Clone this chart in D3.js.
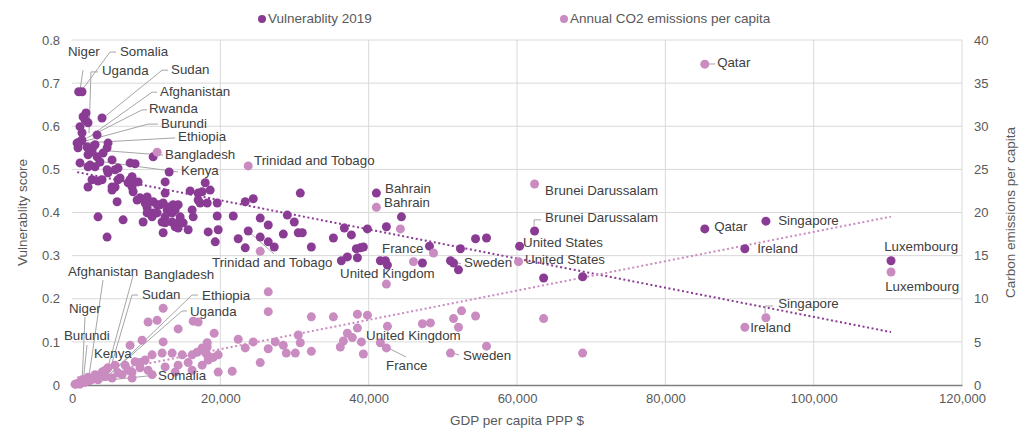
<!DOCTYPE html>
<html>
<head>
<meta charset="utf-8">
<script src="https://cdn.jsdelivr.net/npm/d3@7/dist/d3.min.js"></script>
<style>
  html, body { margin: 0; padding: 0; background: #ffffff; }
  svg { display: block; font-family: "Liberation Sans", Arial, sans-serif; }
</style>
</head>
<body>
<svg id="chart" width="1024" height="437"></svg>
<script>
// ---------------- DATA ----------------
const seriesNames = ["Vulnerablity 2019", "Annual CO2 emissions per capita"];

const xTicks = [0, 20000, 40000, 60000, 80000, 100000, 120000];
const leftTicks = [0, 0.1, 0.2, 0.3, 0.4, 0.5, 0.6, 0.7, 0.8];
const rightTicks = [0, 5, 10, 15, 20, 25, 30, 35, 40];

// [GDP per capita PPP $, vulnerability score]
const vulnerability = [
  [900,0.680],[1350,0.680],[4050,0.619],[1890,0.631],[1490,0.622],[1080,0.599],[2160,0.608],[3380,0.580],
  [680,0.561],[1350,0.568],[2030,0.552],[2840,0.552],[4860,0.561],[1080,0.515],[2160,0.534],[3380,0.529],
  [4190,0.538],[4730,0.550],[3780,0.517],[3110,0.506],[2160,0.506],[10940,0.529],[13100,0.494],[3510,0.473],
  [4860,0.492],[6210,0.503],[6210,0.476],[7830,0.515],[8510,0.513],[8100,0.483],[2160,0.459],[5400,0.452],
  [6080,0.425],[8240,0.469],[8910,0.471],[12560,0.471],[15930,0.450],[17010,0.445],[17960,0.469],[18630,0.452],
  [17280,0.422],[18230,0.422],[19580,0.422],[23360,0.425],[24440,0.432],[30780,0.445],[9180,0.434],[10130,0.436],
  [10940,0.425],[11880,0.418],[12830,0.406],[13640,0.418],[10130,0.411],[10940,0.399],[3510,0.390],[6890,0.383],
  [14580,0.390],[16340,0.390],[19580,0.392],[21740,0.392],[25380,0.387],[29030,0.394],[5400,0.459],[7560,0.469],
  [8240,0.448],[8780,0.429],[9860,0.422],[11480,0.418],[12290,0.422],[12560,0.445],[12960,0.413],[13500,0.399],
  [13910,0.406],[14310,0.418],[12560,0.390],[12150,0.378],[12560,0.376],[13500,0.378],[13910,0.367],[14310,0.376],
  [14990,0.376],[14310,0.364],[12290,0.353],[15660,0.360],[16200,0.406],[17010,0.429],[17550,0.448],[19710,0.360],
  [18360,0.355],[19310,0.332],[9590,0.378],[10800,0.390],[10130,0.399],[11480,0.399],[4730,0.343],[22410,0.339],
  [23360,0.318],[23760,0.357],[25380,0.343],[26460,0.371],[26460,0.332],[27270,0.320],[28490,0.350],[29970,0.378],
  [30510,0.353],[31050,0.353],[32270,0.320],[35240,0.341],[36320,0.288],[37130,0.297],[36720,0.364],[37670,0.348],
  [38340,0.316],[38880,0.318],[39290,0.320],[38480,0.295],[39830,0.362],[41040,0.445],[41580,0.288],[42260,0.288],
  [42530,0.278],[42390,0.367],[44420,0.390],[47250,0.283],[48200,0.322],[52380,0.316],[54410,0.339],[55890,0.341],
  [51030,0.288],[51440,0.283],[52110,0.267],[60350,0.322],[62370,0.357],[63590,0.248],[68850,0.251],[85320,0.362],
  [93560,0.380],[90720,0.316],[110430,0.288],
  [2700,0.476],[4050,0.476],[6480,0.480],[5810,0.499],[5400,0.522],[4730,0.499],[2430,0.510],[2700,0.541],
  [3110,0.557],[1350,0.585],[1760,0.615],[810,0.550],[1080,0.564],[8100,0.459],[7830,0.476],[5810,0.459]
];

// [GDP per capita PPP $, CO2 tonnes per capita]
const emissions = [
  [85320,37.2],[62370,23.3],[41040,20.6],[11480,27.0],[23760,25.4],[25380,15.5],[44280,18.1],[48740,15.3],
  [46040,14.3],[42390,11.7],[60210,14.3],[110430,13.1],[93560,7.8],[90720,6.7],[68850,3.7],[63590,7.7],
  [55890,4.5],[51030,3.7],[52520,8.6],[54410,8.0],[51440,7.7],[52110,6.7],[48330,7.2],[47250,7.1],
  [26460,10.8],[26460,8.5],[32270,7.9],[35240,7.9],[38480,8.2],[39830,8.1],[38480,6.6],[37130,6.0],
  [37800,5.5],[36590,5.1],[36180,4.4],[39020,5.0],[39290,3.6],[41580,4.9],[42390,4.3],[42530,6.8],
  [30510,5.8],[30780,4.9],[30110,3.7],[28890,3.7],[28490,4.6],[27410,5.0],[26460,4.2],[24440,5.0],
  [23360,4.3],[22410,5.3],[25380,2.6],[21600,1.6],[19710,1.5],[19170,6.0],[18230,4.4],[18230,3.5],
  [32270,3.9],[12290,8.9],[10260,7.3],[11480,7.5],[16340,7.4],[17010,7.3],[14310,6.5],[12290,5.0],
  [9450,5.2],[7830,4.6],[18230,4.9],[17550,4.3],[16880,3.8],[16200,3.5],[17960,3.8],[19040,3.2],
  [19710,3.5],[18360,2.9],[14850,3.5],[13500,3.7],[12150,3.7],[10800,3.5],[9860,2.9],[9180,2.6],
  [8510,2.7],[7160,2.3],[5810,2.3],[4860,2.0],[4050,1.5],[3110,1.2],[2160,0.9],[1350,0.6],
  [810,0.2],[410,0.1],[1760,0.3],[3510,0.6],[5400,0.8],[6750,1.2],[8100,1.5],[10260,1.7],
  [12560,2.1],[14310,2.3],[15660,2.6],[17550,2.3],[16200,1.7],[13910,1.5],[10800,1.2],[8100,0.8],
  [540,0.1],[1080,0.1],[2430,0.5],[2840,0.7],[4460,1.0],[6210,1.4],[7560,1.7],[9180,2.0],[4460,1.7]
];

// linear trendlines: [intercept, slope per $]
const vulnTrend = [0.496, -3.38e-6];
const co2Trend = [0.75, 1.70e-4];
const trendRange = [700, 110430];

// labels: [text, text gdp, text value, leader line points [[gdp, value], ...]]
const vulnLabels = [
  ["Niger", -540, 0.772, [[1483,0.730],[1079,0.684]]],
  ["Somalia", 6473, 0.772, [[5934,0.772],[5125,0.772],[1349,0.684]]],
  ["Uganda", 4046, 0.726, [[3506,0.726],[2562,0.726],[2293,0.584]]],
  ["Sudan", 13351, 0.730, [[12947,0.730],[12137,0.730],[4046,0.617]]],
  ["Afghanistan", 11868, 0.679, [[11463,0.679],[10789,0.679],[2697,0.580]]],
  ["Rwanda", 10384, 0.638, [[10115,0.638],[9440,0.638],[2023,0.573]]],
  ["Burundi", 12001, 0.605, [[11598,0.605],[10249,0.605],[809,0.561]]],
  ["Ethiopia", 14295, 0.573, [[13891,0.573],[1483,0.561]]],
  ["Bangladesh", 12542, 0.533, [[12272,0.533],[4855,0.543]]],
  ["Kenya", 14700, 0.494, [[14295,0.494],[4450,0.517]]],
  ["Trinidad and Tobago", 18880, 0.281, [[23735,0.357],[27242,0.304]]],
  ["Bahrain", 42211, 0.454, []],
  ["France", 41807, 0.315, []],
  ["United Kingdom", 36142, 0.257, []],
  ["Sweden", 52865, 0.281, [[51651,0.285],[52460,0.281]]],
  ["United States", 60822, 0.327, []],
  ["Brunei Darussalam", 63789, 0.387, [[62305,0.369],[62305,0.383],[63249,0.383]]],
  ["Qatar", 86580, 0.366, []],
  ["Singapore", 95211, 0.380, []],
  ["Ireland", 92379, 0.315, []],
  ["Luxembourg", 109506, 0.318, []]
];

const co2Labels = [
  ["Afghanistan", -540, 13.10, [[4181,12.17],[2158,0.23]]],
  ["Bangladesh", 9710, 12.64, [[8226,12.64],[4450,0.81]]],
  ["Sudan", 9440, 10.43, [[8901,10.43],[8092,10.43],[4720,0.58]]],
  ["Ethiopia", 17532, 10.32, [[16992,10.43],[16183,10.43],[4720,0.93]]],
  ["Uganda", 15913, 8.46, [[15509,8.58],[14835,8.58],[4181,0.58]]],
  ["Niger", -405, 8.81, [[1753,7.88],[1349,0.23]]],
  ["Burundi", -1079, 5.68, [[2023,4.64],[1483,0.23]]],
  ["Kenya", 2967, 3.59, []],
  ["Somalia", 11598, 1.04, [[11463,1.16],[1079,0.23]]],
  ["Trinidad and Tobago", 24545, 25.86, []],
  ["Bahrain", 42076, 20.99, []],
  ["Brunei Darussalam", 63789, 22.38, []],
  ["Qatar", 86985, 37.33, [[85906,37.22],[86715,37.22]]],
  ["United States", 61092, 14.38, []],
  ["United Kingdom", 39649, 5.57, []],
  ["France", 42346, 2.20, [[42616,4.29],[45043,3.25]]],
  ["Sweden", 52730, 3.36, [[51381,3.71],[52191,3.48]]],
  ["Singapore", 95211, 9.28, [[93457,8.35],[93457,9.16],[94536,9.16]]],
  ["Ireland", 91435, 6.61, []],
  ["Luxembourg", 109641, 11.36, []]
];

// ---------------- DRAWING ----------------
const svg = d3.select("#chart");
const margin = { left: 72, right: 62, top: 40, bottom: 52 };
const W = 1024, H = 437;
const x = d3.scaleLinear().domain([0, 120000]).range([margin.left, W - margin.right]);
const yL = d3.scaleLinear().domain([0, 0.8]).range([H - margin.bottom, margin.top]);
const yR = d3.scaleLinear().domain([0, 40]).range([H - margin.bottom, margin.top]);

const darkColor = "#8a3b94";
const lightColor = "#c98bc0";
const textColor = "#404040";
const tickColor = "#595959";
const gridColor = "#d9d9d9";

// gridlines
const grid = svg.append("g");
grid.selectAll("line.h").data(leftTicks.filter(d => d > 0)).join("line")
  .attr("x1", x(0)).attr("x2", x(120000))
  .attr("y1", d => yL(d)).attr("y2", d => yL(d))
  .attr("stroke", gridColor).attr("stroke-width", 1);
grid.selectAll("line.v").data(xTicks.filter(d => d > 0)).join("line")
  .attr("x1", d => x(d)).attr("x2", d => x(d))
  .attr("y1", yL(0)).attr("y2", yL(0.8))
  .attr("stroke", gridColor).attr("stroke-width", 1);

// axes
const fmt = d3.format(",");
const xAxis = svg.append("g").attr("transform", `translate(0,${yL(0)})`)
  .call(d3.axisBottom(x).tickValues(xTicks).tickFormat(d => fmt(d)).tickSize(0).tickPadding(9));
xAxis.select(".domain").attr("stroke", "#7f7f7f").attr("stroke-width", 1.3);
xAxis.selectAll("text").attr("fill", tickColor).style("font-size", "13px").style("font-family", "Liberation Sans, Arial, sans-serif");

const lAxis = svg.append("g").attr("transform", `translate(${x(0)},0)`)
  .call(d3.axisLeft(yL).tickValues(leftTicks).tickFormat(d => d === 0 ? "0" : d3.format(".1f")(d)).tickSize(0).tickPadding(12));
lAxis.select(".domain").remove();
lAxis.selectAll("text").attr("fill", tickColor).style("font-size", "13px").style("font-family", "Liberation Sans, Arial, sans-serif");

const rAxis = svg.append("g").attr("transform", `translate(${x(120000)},0)`)
  .call(d3.axisRight(yR).tickValues(rightTicks).tickFormat(d => d).tickSize(0).tickPadding(12));
rAxis.select(".domain").remove();
rAxis.selectAll("text").attr("fill", tickColor).style("font-size", "13px").style("font-family", "Liberation Sans, Arial, sans-serif");

// axis titles
const midY = (yL(0) + yL(0.8)) / 2;
svg.append("text").attr("transform", `translate(23,${midY}) rotate(-90)`)
  .attr("text-anchor", "middle").attr("dominant-baseline", "middle")
  .attr("fill", tickColor).style("font-size", "13.5px").text("Vulnerablity score");
svg.append("text").attr("transform", `translate(1011,${midY}) rotate(-90)`)
  .attr("text-anchor", "middle").attr("dominant-baseline", "middle")
  .attr("fill", tickColor).style("font-size", "13.5px").text("Carbon emissions per capita");
svg.append("text").attr("x", (x(0) + x(120000)) / 2).attr("y", 421)
  .attr("text-anchor", "middle").attr("dominant-baseline", "middle")
  .attr("fill", tickColor).style("font-size", "13.5px").text("GDP per capita PPP $");

// legend
const legend = svg.append("g");
[[262, darkColor, seriesNames[0]], [564, lightColor, seriesNames[1]]].forEach(([lx, c, t]) => {
  legend.append("circle").attr("cx", lx).attr("cy", 19).attr("r", 4).attr("fill", c);
  legend.append("text").attr("x", lx + 6).attr("y", 19).attr("dominant-baseline", "middle")
    .attr("fill", tickColor).style("font-size", "13.5px").text(t);
});

// trendlines
const trendG = svg.append("g");
trendG.append("line")
  .attr("x1", x(trendRange[0])).attr("y1", yL(vulnTrend[0] + vulnTrend[1] * trendRange[0]))
  .attr("x2", x(trendRange[1])).attr("y2", yL(vulnTrend[0] + vulnTrend[1] * trendRange[1]))
  .attr("stroke", darkColor).attr("stroke-width", 2).attr("stroke-dasharray", "2 2.6");
trendG.append("line")
  .attr("x1", x(trendRange[0])).attr("y1", yR(co2Trend[0] + co2Trend[1] * trendRange[0]))
  .attr("x2", x(trendRange[1])).attr("y2", yR(co2Trend[0] + co2Trend[1] * trendRange[1]))
  .attr("stroke", lightColor).attr("stroke-width", 2).attr("stroke-dasharray", "2 2.6");

// leader lines
const leaderG = svg.append("g");
const drawLeaders = (labels, yScale) => {
  labels.forEach(l => {
    const pts = l[3];
    if (pts.length < 2) return;
    leaderG.append("path")
      .attr("d", d3.line().x(p => x(p[0])).y(p => yScale(p[1]))(pts))
      .attr("fill", "none").attr("stroke", "#a6a6a6").attr("stroke-width", 1);
  });
};
drawLeaders(vulnLabels, yL);
drawLeaders(co2Labels, yR);

// points
svg.append("g").selectAll("circle").data(vulnerability).join("circle")
  .attr("cx", d => x(d[0])).attr("cy", d => yL(d[1])).attr("r", 4.5)
  .attr("fill", darkColor);
svg.append("g").selectAll("circle").data(emissions).join("circle")
  .attr("cx", d => x(d[0])).attr("cy", d => yR(d[1])).attr("r", 4.5)
  .attr("fill", lightColor);

// labels
const labelG = svg.append("g");
const drawLabels = (labels, yScale) => {
  labelG.selectAll(null).data(labels).join("text")
    .attr("x", d => x(d[1])).attr("y", d => yScale(d[2]))
    .attr("dominant-baseline", "middle")
    .attr("fill", textColor).style("font-size", "13.3px")
    .text(d => d[0]);
};
drawLabels(vulnLabels, yL);
drawLabels(co2Labels, yR);
</script>
</body>
</html>
